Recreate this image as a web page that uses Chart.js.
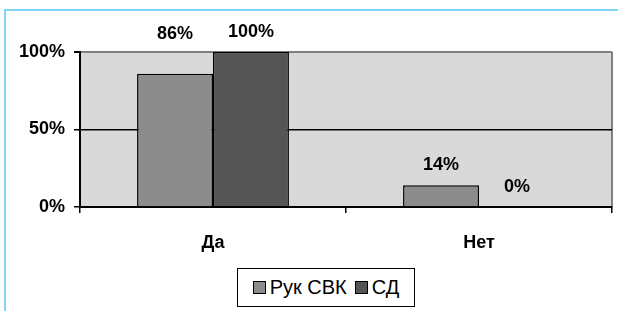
<!DOCTYPE html>
<html>
<head>
<meta charset="utf-8">
<script src="https://cdn.jsdelivr.net/npm/chart.js@4"></script>
<style>
  html, body { margin: 0; padding: 0; background: #fff; }
  #wrap { position: relative; width: 618px; height: 311px; overflow: hidden; }
  #frame { position: absolute; left: 4px; top: 9px; width: 620px; height: 310px;
           border-top: 2px solid #7fd4f7; border-left: 2px solid #7fd4f7; }
  #chart { position: absolute; left: 0; top: 0; }
  #legend { position: absolute; left: 237px; top: 268px; width: 176px; height: 37px;
            border: 1.5px solid #000; background: #fff; display: flex; align-items: center;
            justify-content: center; font-family: Arial, "Liberation Sans", sans-serif; font-size: 20px; color: #000; }
  #legend .item { display: flex; align-items: center; margin: 0 4px; }
  #legend .box { width: 11px; height: 11px; border: 1px solid #000; margin-right: 4px; }
</style>
</head>
<body>
<div id="wrap">
  <div id="frame"></div>
  <canvas id="chart" width="618" height="311"></canvas>
  <div id="legend"></div>
</div>
<script>
// data
var categories = ['Да', 'Нет'];
var seriesNames = ['Рук СВК', 'СД'];
var rukSvk = [86, 14];
var sd = [100, 0];
var yTicks = [0, 50, 100];

var colors = ['#8c8c8c', '#555555'];
var fontFamily = 'Arial, "Liberation Sans", sans-serif';

// extra lift of value labels above bars (px), per dataset / category
var labelLift = [[40, 20], [20, 20]];

// grey plot background + right border
var plotBg = {
  id: 'plotBg',
  beforeDraw: function (chart) {
    var a = chart.chartArea, ctx = chart.ctx;
    ctx.save();
    ctx.fillStyle = '#d9d9d9';
    ctx.fillRect(a.left, a.top, a.right - a.left, a.bottom - a.top);
    ctx.strokeStyle = '#808080';
    ctx.lineWidth = 2;
    ctx.beginPath();
    ctx.moveTo(a.right, a.top);
    ctx.lineTo(a.right, a.bottom);
    ctx.stroke();
    ctx.restore();
  }
};

// value labels
var valueLabels = {
  id: 'valueLabels',
  afterDatasetsDraw: function (chart) {
    var ctx = chart.ctx;
    ctx.save();
    ctx.font = 'bold 18px ' + fontFamily;
    ctx.fillStyle = '#000';
    ctx.textAlign = 'center';
    ctx.textBaseline = 'middle';
    chart.data.datasets.forEach(function (ds, di) {
      chart.getDatasetMeta(di).data.forEach(function (bar, i) {
        ctx.fillText(ds.data[i] + '%', bar.x, bar.y - labelLift[di][i]);
      });
    });
    ctx.restore();
  }
};

var ctx = document.getElementById('chart').getContext('2d');
var chart = new Chart(ctx, {
  type: 'bar',
  data: {
    labels: categories,
    datasets: [
      { label: seriesNames[0], data: rukSvk, backgroundColor: colors[0], borderColor: '#000', borderWidth: 1.5 },
      { label: seriesNames[1], data: sd, backgroundColor: colors[1], borderColor: '#000', borderWidth: 1.5 }
    ]
  },
  options: {
    responsive: false,
    animation: false,
    layout: { padding: { top: 52, right: 6, left: 0, bottom: 0 } },
    datasets: { bar: { barPercentage: 1, categoryPercentage: 0.571 } },
    plugins: { legend: { display: false }, tooltip: { enabled: false } },
    scales: {
      x: {
        grid: { offset: true, drawOnChartArea: false, color: '#000', lineWidth: 1.5, tickLength: 6 },
        border: { color: '#000', width: 2 },
        ticks: { color: '#000', padding: 19, font: { family: fontFamily, size: 18, weight: 'bold' } },
        afterFit: function (scale) { scale.height = 104; }
      },
      y: {
        min: 0,
        max: 100,
        afterBuildTicks: function (scale) {
          scale.ticks = yTicks.map(function (v) { return { value: v }; });
        },
        grid: {
          color: function (c) { return c.tick && c.tick.value === 100 ? '#808080' : '#000'; },
          lineWidth: function (c) { return c.tick && c.tick.value === 100 ? 2 : 1.5; },
          tickColor: '#000',
          tickLength: 6
        },
        border: { color: '#000', width: 2 },
        ticks: {
          color: '#000',
          padding: 9,
          font: { family: fontFamily, size: 18, weight: 'bold' },
          callback: function (v) { return v + '%'; }
        },
        afterFit: function (scale) { scale.width = 80; }
      }
    }
  },
  plugins: [plotBg, valueLabels]
});

// legend
var legend = document.getElementById('legend');
seriesNames.forEach(function (name, i) {
  var item = document.createElement('div');
  item.className = 'item';
  var box = document.createElement('span');
  box.className = 'box';
  box.style.background = colors[i];
  var txt = document.createElement('span');
  txt.textContent = name;
  item.appendChild(box);
  item.appendChild(txt);
  legend.appendChild(item);
});
</script>
</body>
</html>
